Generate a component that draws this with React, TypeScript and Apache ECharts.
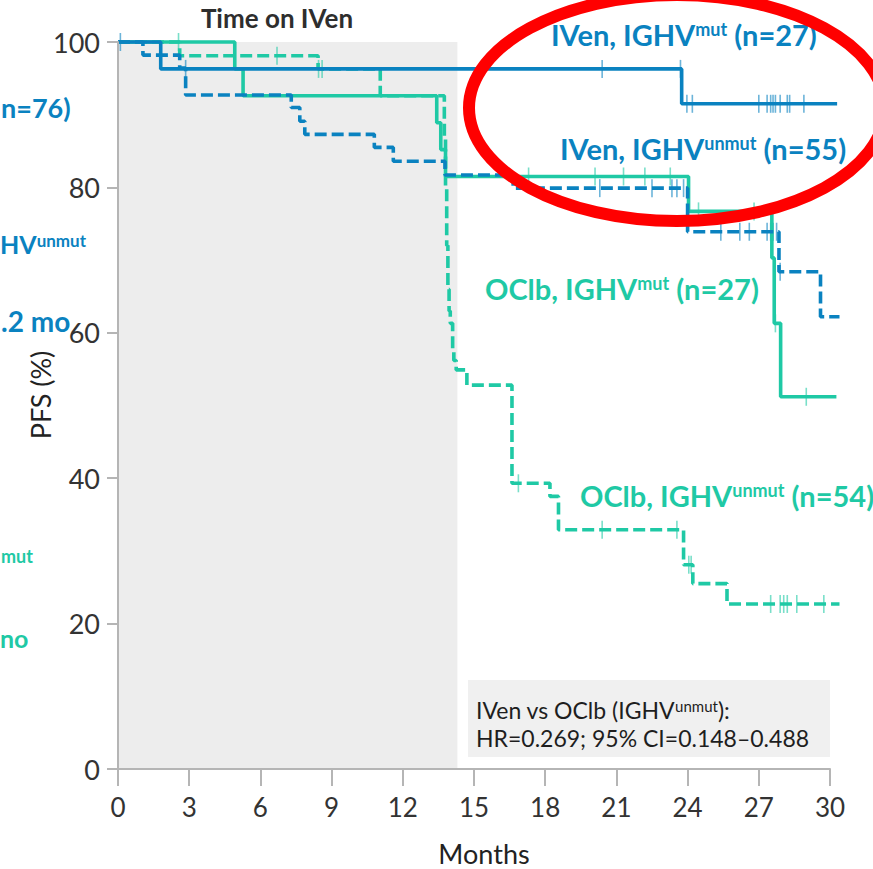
import React, { useEffect, useRef } from "react";
import * as echarts from "echarts";

// Axis ticks
const monthTicks = [0, 3, 6, 9, 12, 15, 18, 21, 24, 27, 30];
const pfsTicks = [0, 20, 40, 60, 80, 100];

// Kaplan–Meier curves: time of each step (months) and PFS (%) after the step
const ivenMutTimes = [0, 1.8, 23.75, 30.3];
const ivenMutPfs = [100, 96.3, 91.5, 91.5];
const ivenMutCensored = [0.1, 2.85, 20.4, 23.7, 23.97, 24.2, 27.0, 27.35, 27.5, 27.6, 27.7, 27.9, 28.2, 28.3, 28.9];

const ivenUnmutTimes = [0, 1.05, 2.6, 2.85, 7.3, 7.66, 7.87, 10.8, 11.6, 13.78, 16.65, 24.0, 27.85, 29.6, 30.4];
const ivenUnmutPfs = [100, 98.2, 96.4, 92.7, 91.0, 89.1, 87.3, 85.5, 83.6, 81.7, 79.9, 73.9, 68.4, 62.2, 62.2];
const ivenUnmutCensored = [20.3, 22.5, 23.34, 23.55, 23.83, 25.4, 26.2, 26.6, 27.35, 27.5, 27.6, 27.75, 27.9];

const oclbMutTimes = [0, 4.92, 5.27, 13.43, 13.6, 13.8, 24.04, 27.55, 27.65, 27.92, 30.27];
const oclbMutPfs = [100, 96.3, 92.6, 88.9, 85.2, 81.5, 76.7, 70.3, 61.3, 51.2, 51.2];
const oclbMutCensored = [17.3, 20.1, 21.3, 22.2, 23.27, 24.46, 26.8, 27.7, 29.0];

const oclbUnmutTimes = [0, 2.6, 8.43, 11.05, 13.75, 13.8, 13.85, 13.9, 13.95, 14.0, 14.1, 14.15, 14.25, 14.7, 16.6, 18.2, 18.56, 23.83, 24.22, 25.66, 30.4];
const oclbUnmutPfs = [100, 98.1, 96.3, 92.6, 87.0, 80.0, 72.0, 66.0, 63.0, 61.3, 57.5, 56.2, 54.9, 52.8, 39.3, 37.5, 32.9, 28.1, 25.5, 22.7, 22.7];
const oclbUnmutCensored = [2.55, 6.7, 8.45, 8.6, 16.87, 20.4, 23.55, 24.05, 24.15, 27.5, 27.9, 28.05, 28.2, 28.6, 29.74];

// Period on IVen treatment (shaded)
const ivenPeriod = [0, 14.3];

const BLUE = "#0a82c0";
const TEAL = "#1fc9a5";
const FONT = "Lato";

// Plot frame (pixels)
const W = 873;
const H = 869;
const GRID_LEFT = 118;
const GRID_RIGHT = 43;
const GRID_TOP = 42;
const GRID_BOTTOM = 100;

function pfsAt(times: number[], pfs: number[], t: number) {
  let v = pfs[0];
  for (let i = 0; i < times.length; i++) if (times[i] <= t) v = pfs[i];
  return v;
}

function stepSeries(times: number[], pfs: number[], color: string, dashed: boolean, extra: any = {}) {
  return {
    type: "line",
    xAxisIndex: 1,
    yAxisIndex: 1,
    step: "end",
    symbol: "none",
    clip: false,
    data: times.map((t, i) => [t, pfs[i]]),
    lineStyle: { color, width: 3.6, type: dashed ? [12, 5] : "solid" },
    z: 4,
    ...extra,
  };
}

function censorSeries(times: number[], pfs: number[], ticks: number[], color: string) {
  return {
    type: "scatter",
    xAxisIndex: 1,
    yAxisIndex: 1,
    symbol: "rect",
    symbolSize: [1.6, 18],
    clip: false,
    silent: true,
    data: ticks.map((t) => [t, pfsAt(times, pfs, t)]),
    itemStyle: { color, opacity: 0.6 },
    z: 3,
  };
}

function label(text: string, x: number, cy: number, color: string, size: number, supSize: number, align = "left") {
  return {
    type: "text",
    x,
    y: cy,
    z: 20,
    style: {
      text,
      align,
      verticalAlign: "middle",
      fill: color,
      fontFamily: FONT,
      fontWeight: "bold",
      fontSize: size,
      rich: {
        a: { fontFamily: FONT, fontWeight: "bold", fontSize: size, fill: color, lineHeight: size },
        s: { fontFamily: FONT, fontWeight: "bold", fontSize: supSize, fill: color, verticalAlign: "top", lineHeight: size },
      },
    },
  };
}

export default function App() {
  const ref = useRef<HTMLDivElement>(null);

  useEffect(() => {
    if (!ref.current) return;
    const chart = echarts.init(ref.current, undefined, { renderer: "svg" });
    const axisGray = "#b5b5b5";

    const xMin = monthTicks[0];
    const xMax = monthTicks[monthTicks.length - 1];
    // Follow-up runs past the last labelled month; the curves use a hidden axis with the same scale
    const followUpEnd = Math.max(
      ...ivenMutTimes,
      ...ivenUnmutTimes,
      ...oclbMutTimes,
      ...oclbUnmutTimes
    );
    const plotWidth = W - GRID_LEFT - GRID_RIGHT;
    const extendedRight = W - GRID_LEFT - (plotWidth * (followUpEnd - xMin)) / (xMax - xMin);

    const option: any = {
      animation: false,
      backgroundColor: "#ffffff",
      grid: [
        { left: GRID_LEFT, right: GRID_RIGHT, top: GRID_TOP, bottom: GRID_BOTTOM },
        { left: GRID_LEFT, right: extendedRight, top: GRID_TOP, bottom: GRID_BOTTOM },
      ],
      xAxis: [
        {
          gridIndex: 0,
          type: "value",
          min: xMin,
          max: xMax,
          interval: 3,
          z: 10,
          splitLine: { show: false },
          axisLine: { show: true, lineStyle: { color: axisGray, width: 2 } },
          axisTick: { show: true, length: 17, lineStyle: { color: axisGray, width: 2 } },
          axisLabel: { fontSize: 26, color: "#333", fontFamily: FONT, margin: 25 },
        },
        { gridIndex: 1, type: "value", min: xMin, max: followUpEnd, show: false, splitLine: { show: false } },
      ],
      yAxis: [
        {
          gridIndex: 0,
          type: "value",
          min: pfsTicks[0],
          max: pfsTicks[pfsTicks.length - 1],
          interval: 20,
          z: 10,
          splitLine: { show: false },
          axisLine: { show: true, lineStyle: { color: axisGray, width: 2 } },
          axisTick: { show: true, length: 11, lineStyle: { color: axisGray, width: 2 } },
          axisLabel: { fontSize: 27, color: "#333", fontFamily: FONT, margin: 18 },
        },
        {
          gridIndex: 1,
          type: "value",
          min: pfsTicks[0],
          max: pfsTicks[pfsTicks.length - 1],
          show: false,
          splitLine: { show: false },
        },
      ],
      series: [
        censorSeries(oclbMutTimes, oclbMutPfs, oclbMutCensored, TEAL),
        censorSeries(oclbUnmutTimes, oclbUnmutPfs, oclbUnmutCensored, TEAL),
        censorSeries(ivenMutTimes, ivenMutPfs, ivenMutCensored, BLUE),
        censorSeries(ivenUnmutTimes, ivenUnmutPfs, ivenUnmutCensored, BLUE),
        stepSeries(oclbMutTimes, oclbMutPfs, TEAL, false, {
          markArea: {
            silent: true,
            itemStyle: { color: "#ededed" },
            data: [[{ xAxis: ivenPeriod[0], yAxis: 0 }, { xAxis: ivenPeriod[1], yAxis: 100.4 }]],
          },
        }),
        stepSeries(oclbUnmutTimes, oclbUnmutPfs, TEAL, true),
        stepSeries(ivenMutTimes, ivenMutPfs, BLUE, false),
        stepSeries(ivenUnmutTimes, ivenUnmutPfs, BLUE, true),
      ],
      graphic: [
        {
          type: "text",
          x: 277,
          y: 18,
          style: { text: "Time on IVen", align: "center", verticalAlign: "middle", fill: "#2e2e2e", fontFamily: FONT, fontWeight: "bold", fontSize: 26 },
        },
        {
          type: "text",
          x: 40,
          y: 395,
          rotation: Math.PI / 2,
          style: { text: "PFS (%)", align: "center", verticalAlign: "middle", fill: "#222", fontFamily: FONT, fontSize: 27 },
        },
        {
          type: "text",
          x: 484,
          y: 853,
          style: { text: "Months", align: "center", verticalAlign: "middle", fill: "#222", fontFamily: FONT, fontSize: 27, lineHeight: 22 },
        },
        label("{a|IVen, IGHV}{s|mut}{a| (n=27)}", 551, 34, BLUE, 29, 18),
        label("{a|IVen, IGHV}{s|unmut}{a| (n=55)}", 560, 148, BLUE, 29, 18),
        label("{a|OClb, IGHV}{s|mut}{a| (n=27)}", 485, 288, TEAL, 29, 18),
        label("{a|OClb, IGHV}{s|unmut}{a| (n=54)}", 580, 495, TEAL, 29, 18),
        // Side panel text at the left margin
        label("{a|n=76)}", 1, 107, BLUE, 27, 18),
        label("{a|HV}{s|unmut}", 0, 244, BLUE, 25, 17),
        label("{a|.2 mo}", 1, 321, BLUE, 28, 18),
        label("{s|mut}", 1, 556, TEAL, 18, 18),
        label("{a|no}", 0, 638, TEAL, 25, 18),
        {
          type: "rect",
          shape: { x: 468, y: 680, width: 362, height: 77 },
          style: { fill: "#f0f0f0" },
          z: 5,
        },
        {
          type: "text",
          x: 476,
          y: 710,
          z: 6,
          style: {
            text: "{a|IVen vs OClb (IGHV}{s|unmut}{a|):}",
            align: "left",
            verticalAlign: "middle",
            fill: "#1e1e1e",
            fontFamily: FONT,
            fontSize: 23,
            rich: {
              a: { fontFamily: FONT, fontSize: 23, fill: "#1e1e1e", lineHeight: 23 },
              s: { fontFamily: FONT, fontSize: 15, fill: "#1e1e1e", verticalAlign: "top", lineHeight: 23 },
            },
          },
        },
        {
          type: "text",
          x: 476,
          y: 738,
          z: 6,
          style: { text: "HR=0.269; 95% CI=0.148\u20130.488", align: "left", verticalAlign: "middle", fill: "#1e1e1e", fontFamily: FONT, fontSize: 23 },
        },
        {
          type: "ellipse",
          shape: { cx: 677, cy: 108, rx: 208, ry: 113 },
          style: { fill: "none", stroke: "#ff0000", lineWidth: 12 },
          z: 30,
        },
      ],
    };
    chart.setOption(option);
    return () => chart.dispose();
  }, []);

  return (
    <div
      ref={ref}
      style={{ position: "absolute", left: 0, top: 0, width: W, height: H, background: "#fff" }}
    />
  );
}
